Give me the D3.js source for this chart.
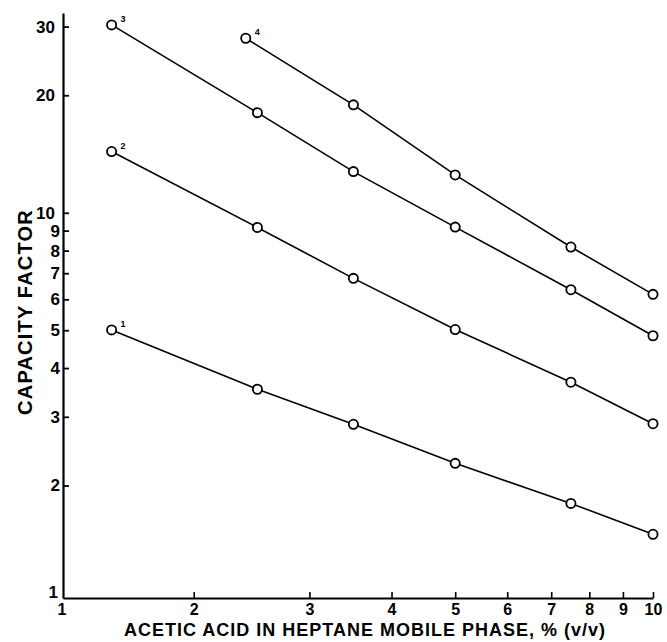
<!DOCTYPE html>
<html>
<head>
<meta charset="utf-8">
<script src="https://cdn.jsdelivr.net/npm/d3@7/dist/d3.min.js"></script>
<style>
  html, body { margin: 0; padding: 0; background: #fff; }
  svg { display: block; }
  text { font-family: "Liberation Sans", Arial, Helvetica, sans-serif; fill: #000; }
</style>
</head>
<body>
<script>
// ---- data ----
const xValues   = [1.5, 2.5, 3.5, 5, 7.5, 10];      // % acetic acid, series 1-3
const xValues4  = [2.4, 3.5, 5, 7.5, 10];           // % acetic acid, series 4
const series1   = [5.01, 3.53, 2.87, 2.28, 1.80, 1.50];
const series2   = [14.35, 9.17, 6.79, 5.02, 3.68, 2.88];
const series3   = [30.3, 18.05, 12.75, 9.19, 6.35, 4.84];
const series4   = [28.0, 18.9, 12.5, 8.17, 6.18];
const seriesNames = ["1", "2", "3", "4"];
const xTickValues = [2, 3, 4, 5, 6, 7, 8, 9, 10];
const yTickValues = [2, 3, 4, 5, 6, 7, 8, 9, 10, 20, 30];
const originLabel = "1";               // the figure labels its axis origin "1" on both axes
const xAxisStart = 1.265, xAxisEnd = 10;   // value range covered by the drawn x axis
const yAxisStart = 1.03,  yAxisEnd = 32.5; // value range covered by the drawn y axis
const xTitle = "ACETIC ACID IN HEPTANE MOBILE PHASE, % (v/v)";
const yTitle = "CAPACITY FACTOR";

const W = 667, H = 642;
const pLeft = 63, pRight = 653, pBottom = 598, pTop = 13;
const tickFont = 17, xTickFont = 16;

const svg = d3.select("body").append("svg").attr("width", W).attr("height", H);

const x = d3.scaleLog().domain([xAxisStart, xAxisEnd]).range([pLeft, pRight]);
const y = d3.scaleLog().domain([yAxisStart, yAxisEnd]).range([pBottom, pTop]);

// ---- axes ----
const yAxis = d3.axisLeft(y).tickValues(yTickValues).tickFormat(d3.format("d"))
  .tickSizeInner(-6).tickSizeOuter(0).tickPadding(3);
const gy = svg.append("g").attr("transform", `translate(${pLeft},0)`).call(yAxis);
gy.select(".domain").attr("stroke", "#000").attr("stroke-width", 2.2);
gy.selectAll(".tick line").attr("stroke", "#000").attr("stroke-width", 1.8);
gy.selectAll(".tick text").attr("font-size", tickFont).attr("font-weight", "bold")
  .attr("x", d => d >= 10 ? -8 : -3);

const xAxis = d3.axisBottom(x).tickValues(xTickValues).tickFormat(d3.format("d"))
  .tickSizeInner(-6).tickSizeOuter(0).tickPadding(6);
const gx = svg.append("g").attr("transform", `translate(0,${pBottom})`).call(xAxis);
gx.select(".domain").attr("stroke", "#000").attr("stroke-width", 1.8);
gx.selectAll(".tick line").attr("stroke", "#000").attr("stroke-width", 1.6);
gx.selectAll(".tick text").attr("font-size", xTickFont).attr("font-weight", "bold");

// origin labels
svg.append("text").attr("x", pLeft - 5).attr("y", pBottom).attr("text-anchor", "end")
  .attr("font-size", tickFont).attr("font-weight", "bold").text(originLabel);
svg.append("text").attr("x", pLeft - 1).attr("y", pBottom + 6).attr("dy", "0.71em")
  .attr("text-anchor", "middle")
  .attr("font-size", xTickFont).attr("font-weight", "bold").text(originLabel);

// titles
svg.append("text").attr("x", 365).attr("y", 636).attr("text-anchor", "middle")
  .attr("font-size", 18).attr("font-weight", "bold").attr("letter-spacing", 1.0).text(xTitle);
svg.append("text").attr("transform", `translate(32,${312}) rotate(-90)`).attr("text-anchor", "middle")
  .attr("font-size", 20).attr("font-weight", "bold").attr("letter-spacing", 1.2).text(yTitle);

// ---- series ----
const allSeries = [
  { name: seriesNames[0], xs: xValues,  ys: series1 },
  { name: seriesNames[1], xs: xValues,  ys: series2 },
  { name: seriesNames[2], xs: xValues,  ys: series3 },
  { name: seriesNames[3], xs: xValues4, ys: series4 }
];

const line = d3.line().x(d => x(d[0])).y(d => y(d[1]));

allSeries.forEach(s => {
  const pts = s.xs.map((v, i) => [v, s.ys[i]]);
  const g = svg.append("g");
  g.append("path").datum(pts).attr("d", line)
    .attr("fill", "none").attr("stroke", "#000").attr("stroke-width", 1.6);
  g.selectAll("circle").data(pts).enter().append("circle")
    .attr("cx", d => x(d[0])).attr("cy", d => y(d[1])).attr("r", 4.6)
    .attr("fill", "#fff").attr("stroke", "#000").attr("stroke-width", 1.8);
  g.append("text")
    .attr("x", x(pts[0][0]) + 9).attr("y", y(pts[0][1]) - 3)
    .attr("font-size", 9).attr("font-weight", "bold").text(s.name);
});
</script>
</body>
</html>
